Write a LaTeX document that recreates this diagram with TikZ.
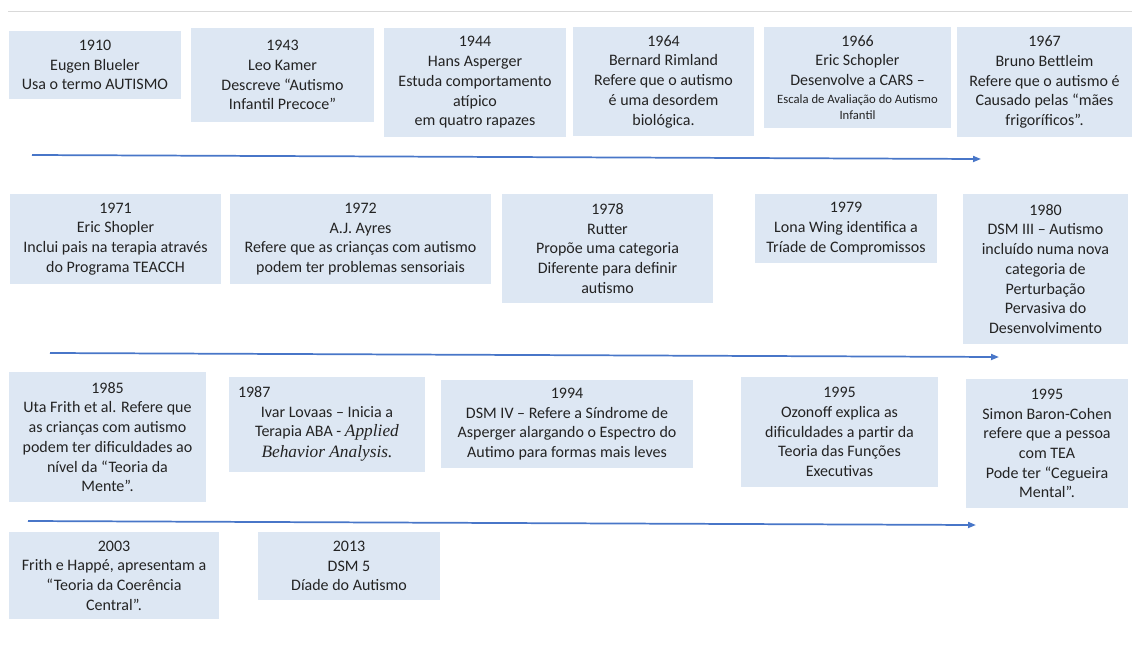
\documentclass[tikz,border=0pt]{standalone}
\usepackage{fontspec}
\setmainfont{Carlito}
\newfontfamily\serifit{Liberation Serif}
\usetikzlibrary{arrows.meta}

\definecolor{boxblue}{RGB}{221,231,243}
\definecolor{lineblue}{RGB}{72,118,200}
\definecolor{txtgray}{RGB}{35,35,35}

\tikzset{
    evbox/.style={fill=boxblue,align=center,inner sep=0pt,text=txtgray,
                  font=\fontsize{12}{14.8}\selectfont},
    wh/.style 2 args={minimum width=#1*0.75pt,minimum height=#2*0.75pt}
}

\begin{document}
\begin{tikzpicture}[x=0.75pt,y=-0.75pt]
    \useasboundingbox (0,0) rectangle (1132,644);

    \coordinate (topL) at (8,11);
    \coordinate (topR) at (1132,11);
    \draw [gray!30] (topL) -- (topR);

    \begin{scope}[every node/.style={evbox}]
        \node [wh={172}{68}]  (y1910) at (95,65)     {1910\\ Eugen Blueler\\ Usa o termo AUTISMO};
        \node [wh={183}{94}]  (y1943) at (282.5,75)  {1943\\ Leo Kamer\\ Descreve “Autismo\\ Infantil Precoce”};
        \node [wh={182}{109}] (y1944) at (475,82.5)  {1944\\ Hans Asperger\\ Estuda comportamento\\ atípico\\ em quatro rapazes};
        \node [wh={181}{109}] (y1964) at (663.5,81.5) {1964\\ Bernard Rimland\\ Refere que o autismo\\ é uma desordem\\ biológica.};
        \node [wh={187}{101}] (y1966) at (857.5,77.5) {1966\\ Eric Schopler\\ Desenvolve a CARS –\\[-1pt]
            {\fontsize{9.5}{12}\selectfont Escala de Avaliação do Autismo}\\[-3pt]
            {\fontsize{9.5}{12}\selectfont Infantil}};
        \node [wh={175}{110}] (y1967) at (1044.5,82) {1967\\ Bruno Bettleim\\ Refere que o autismo é\\ Causado pelas “mães\\ frigoríficos”.};

        \node [wh={211}{90}]  (y1971) at (115.5,239) {1971\\ Eric Shopler\\ Inclui pais na terapia através\\ do Programa TEACCH};
        \node [wh={261}{90}]  (y1972) at (360.5,239) {1972\\ A.J. Ayres\\ Refere que as crianças com autismo\\ podem ter problemas sensoriais};
        \node [wh={211}{109}] (y1978) at (607.5,248.5) {1978\\ Rutter\\ Propõe uma categoria\\ Diferente para definir\\ autismo};
        \node [wh={182}{69}]  (y1979) at (846,228.5) {1979\\ Lona Wing identifica a\\ Tríade de Compromissos};
        \node [wh={165}{150}] (y1980) at (1045.5,269) {1980\\ DSM III – Autismo\\ incluído numa nova\\ categoria de\\ Perturbação\\ Pervasiva do\\ Desenvolvimento};

        \node [wh={197}{130}] (y1985) at (107.5,437) {1985\\ Uta Frith et al. Refere que\\ as crianças com autismo\\ podem ter dificuldades ao\\ nível da “Teoria da\\ Mente”.};
        \node [wh={196}{95},text width=178*0.75pt,align=flush center] (y1987) at (327,424) {1987\hfill\null\\ Ivar Lovaas – Inicia a\\
            Terapia ABA - {\serifit\itshape\fontsize{13}{14.8}\selectfont Applied}\\[1pt]
            {\serifit\itshape\fontsize{13}{14.8}\selectfont Behavior Analysis.}};
        \node [wh={252}{88}]  (y1994) at (567,424)   {1994\\ DSM IV – Refere a Síndrome de\\ Asperger alargando o Espectro do\\ Autimo para formas mais leves};
        \node [wh={197}{110}] (y1995) at (839.5,432) {1995\\ Ozonoff explica as\\ dificuldades a partir da\\ Teoria das Funções\\ Executivas};
        \node [wh={162}{129}] (y1995b) at (1047,443.5) {1995\\ Simon Baron-Cohen\\ refere que a pessoa\\ com TEA\\ Pode ter “Cegueira\\ Mental”.};

        \node [wh={210}{87}]  (y2003) at (114,575.5) {2003\\ Frith e Happé, apresentam a\\ “Teoria da Coerência\\ Central”.};
        \node [wh={182}{68}]  (y2013) at (349,566)   {2013\\ DSM 5\\ Díade do Autismo};
    \end{scope}

    \coordinate (r1s) at (32,155);
    \coordinate (r1e) at (981,159);
    \coordinate (r2s) at (50,353);
    \coordinate (r2e) at (999,357);
    \coordinate (r3s) at (28,521);
    \coordinate (r3e) at (976,525);

    \begin{scope}[>={Triangle[length=6pt,width=4.5pt]},
                  every edge/.style={draw=lineblue,line width=1.3pt}]
        \path [->] (r1s) edge (r1e);
        \path [->] (r2s) edge (r2e);
        \path [->] (r3s) edge (r3e);
    \end{scope}
\end{tikzpicture}
\end{document}
